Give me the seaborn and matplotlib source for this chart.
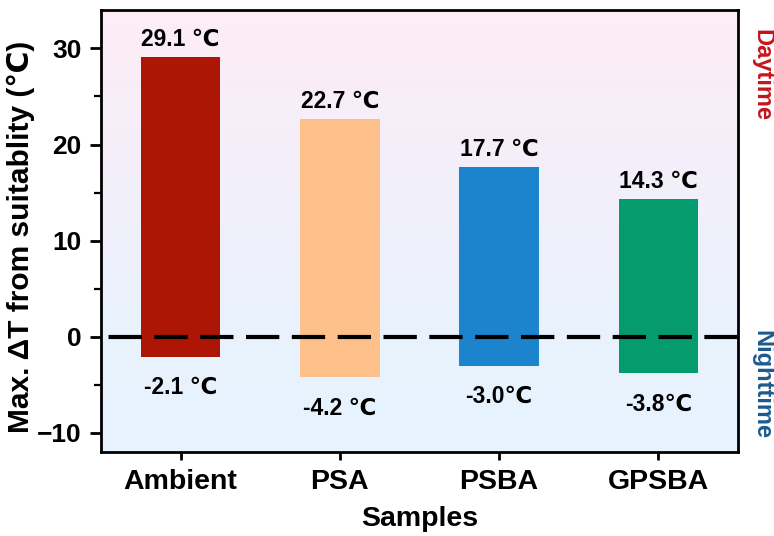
import numpy as np
import pandas as pd
import matplotlib
matplotlib.use("Agg")
import matplotlib.pyplot as plt
from matplotlib.colors import LinearSegmentedColormap
import seaborn as sns

samples = ["Ambient", "PSA", "PSBA", "GPSBA"]
day_max = [29.1, 22.7, 17.7, 14.3]
night_min = [-2.1, -4.2, -3.0, -3.8]
night_sep = [" ", " ", "", ""]
bar_colors = ["#ad1505", "#fdc08a", "#1b84cd", "#069b6c"]

sns.set_theme(style="ticks")
plt.rcParams["font.family"] = ["Liberation Sans", "DejaVu Sans"]
plt.rcParams["font.weight"] = "bold"
plt.rcParams["text.color"] = "black"
plt.rcParams["axes.labelcolor"] = "black"
plt.rcParams["xtick.color"] = "black"
plt.rcParams["ytick.color"] = "black"

fig = plt.figure(figsize=(7.74, 5.36), dpi=100)
ax = fig.add_axes([0.1305, 0.1567, 0.823, 0.8246])

ymin, ymax = -12, 34

# soft pink-to-blue backdrop
bg = LinearSegmentedColormap.from_list(
    "bg", [(0.0, "#e6f3fd"), (0.26, "#e8f2fd"), (0.45, "#eef0fb"), (1.0, "#fdedf6")]
)
grad = np.linspace(0, 1, 256).reshape(-1, 1)
ax.imshow(grad, cmap=bg, origin="lower", aspect="auto",
          extent=(-0.5, 3.5, ymin, ymax), zorder=0)

df = pd.DataFrame({"Sample": samples, "Day": day_max, "Night": night_min})
pal = dict(zip(samples, bar_colors))
sns.barplot(data=df, x="Sample", y="Day", hue="Sample", palette=pal,
            width=0.5, saturation=1, legend=False, ax=ax, zorder=2)
sns.barplot(data=df, x="Sample", y="Night", hue="Sample", palette=pal,
            width=0.5, saturation=1, legend=False, ax=ax, zorder=2)
for p in ax.patches:
    p.set_linewidth(0)

ax.axhline(0, color="black", lw=3.0, ls=(9.2, (8.0, 3.0)),
           dash_capstyle="butt", zorder=3)

for i, v in enumerate(day_max):
    ax.annotate(f"{v} ℃", (i, v), xytext=(0, 8), textcoords="offset points",
                ha="center", va="baseline", fontsize=16.5, fontweight="bold",
                color="black")
for i, v in enumerate(night_min):
    ax.annotate(f"{v}{night_sep[i]}℃", (i, v), xytext=(0, -14),
                textcoords="offset points", ha="center", va="top",
                fontsize=16.5, fontweight="bold", color="black")

ax.set_xlim(-0.5, 3.5)
ax.set_ylim(ymin, ymax)
ax.set_yticks([-10, 0, 10, 20, 30])
ax.set_yticks(np.arange(-10, 31, 5), minor=True)

ax.set_xlabel("Samples", fontsize=20.5, fontweight="bold", labelpad=8)
ax.set_ylabel("Max. ΔT from suitablity (℃)", fontsize=21.5, fontweight="bold")
ax.yaxis.set_label_coords(-0.104, 0.487)

ax.tick_params(axis="y", which="major", direction="out", length=8, width=2,
               labelsize=19, pad=6, right=False)
ax.tick_params(axis="y", which="minor", direction="out", length=5, width=1.6, right=False)
ax.tick_params(axis="x", which="major", direction="out", length=6, width=2,
               labelsize=20.5, pad=6, top=False)
for lab in ax.get_xticklabels() + ax.get_yticklabels():
    lab.set_fontweight("bold")

for s in ax.spines.values():
    s.set_visible(True)
    s.set_linewidth(2)
    s.set_color("black")

ax.text(1.038, 0.853, "Daytime", transform=ax.transAxes, rotation=-90,
        ha="center", va="center", fontsize=17, fontweight="bold", color="#c4161c")
ax.text(1.038, 0.152, "Nighttime", transform=ax.transAxes, rotation=-90,
        ha="center", va="center", fontsize=17, fontweight="bold", color="#1c5a8e")

fig.savefig("out.png", dpi=100)
